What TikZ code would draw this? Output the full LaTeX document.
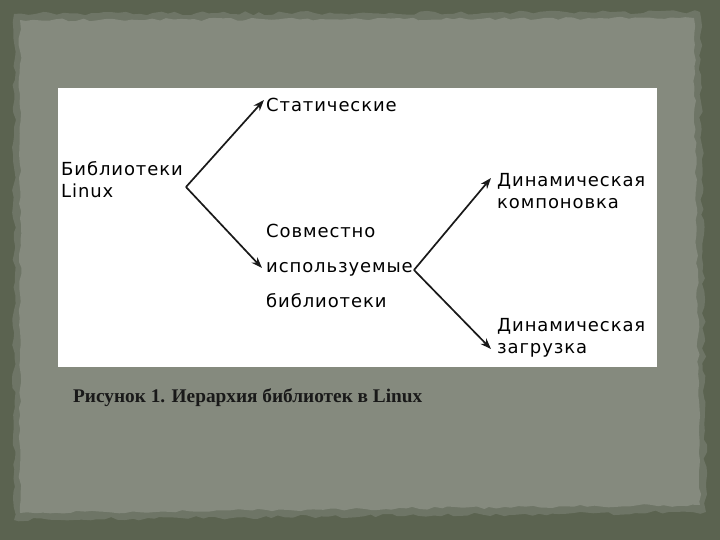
\documentclass[tikz,border=0pt]{standalone}
\usepackage{fontspec}
\setmainfont{Liberation Serif}
\newfontfamily\diagfont[LetterSpace=5]{DejaVu Sans}
\usetikzlibrary{decorations.pathmorphing,arrows.meta}
\definecolor{outerbg}{HTML}{5B6350}
\definecolor{paper}{HTML}{858A7E}
\definecolor{paperedge}{HTML}{6E7566}
\tikzset{
  lbl/.style={font=\diagfont\fontsize{18bp}{25bp}\selectfont, anchor=west, inner sep=0pt, align=left},
  conn/.style={draw=black!90, line width=1.7bp, -{Stealth[length=11bp,width=8bp]}},
}
\begin{document}
\begin{tikzpicture}[x=1bp,y=-1bp]
\useasboundingbox (0,0) rectangle (720,540);
\fill[outerbg] (0,0) rectangle (720,540);
\pgfmathsetseed{7}
\fill[paperedge, decorate, decoration={random steps,segment length=7bp,amplitude=2bp}]
  (14,14) -- (700,12) -- (706,512) -- (14,520) -- cycle;
\fill[paper, decorate, decoration={random steps,segment length=7bp,amplitude=1.5bp}]
  (20,20) -- (694,18) -- (700,505) -- (20,513) -- cycle;
\fill[white] (58,88) rectangle (657,367);

\node[lbl] (lib) at (61,180) {Библиотеки\\[-3bp]Linux};
\node[lbl] (stat) at (266,105) {Статические};
\node[lbl, font=\diagfont\fontsize{18bp}{35bp}\selectfont] (shared) at (266,266) {Совместно\\используемые\\библиотеки};
\node[lbl] (dynl) at (497,191) {Динамическая\\[-3bp]компоновка};
\node[lbl] (dynz) at (497,338) {Динамическая\\[-3bp]загрузка};

\coordinate (b1) at (186,187);
\coordinate (b2) at (414,270);
\draw[conn] (b1) -- (264,100) coordinate (e1);
\draw[conn] (b1) -- (262,268) coordinate (e2);
\draw[conn] (b2) -- (491,178) coordinate (e3);
\draw[conn] (b2) -- (491,349) coordinate (e4);

\node[font=\bfseries\fontsize{19.3bp}{22bp}\selectfont, anchor=west, inner sep=0pt, text=black!90] (cap) at (73,398) {Рисунок 1. Иерархия библиотек в Linux};
\end{tikzpicture}
\end{document}
